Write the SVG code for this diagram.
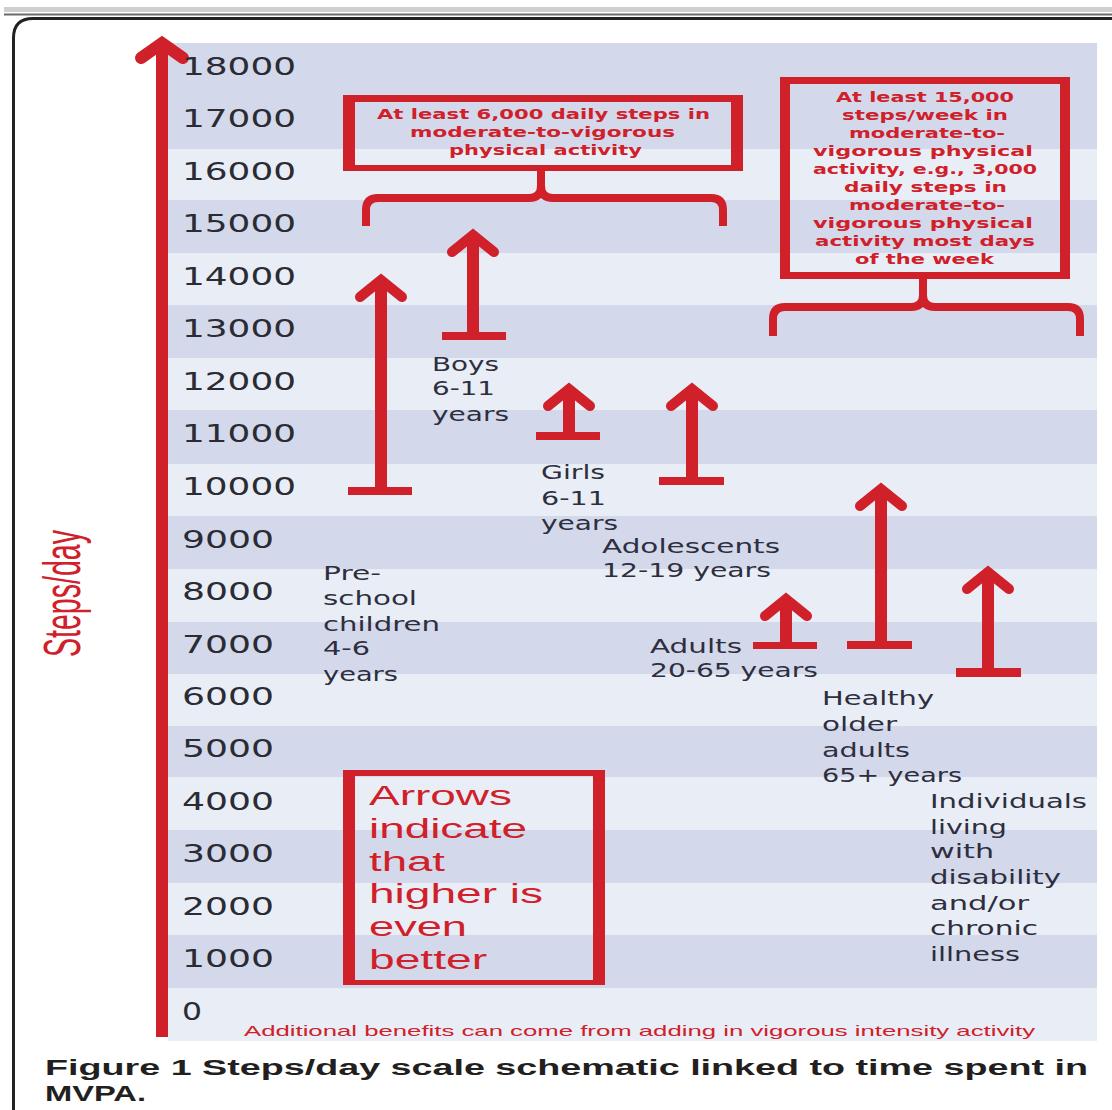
<svg xmlns="http://www.w3.org/2000/svg" width="1112" height="1110" viewBox="0 0 1112 1110">
<style>
.dark{fill:#d3d9ea}
.axl{font-family:"DejaVu Sans",sans-serif;font-size:25px;fill:#2b2b33}
.lbl{font-family:"DejaVu Sans",sans-serif;font-size:19px;fill:#2e2e3e}
.bx{font-family:"DejaVu Sans",sans-serif;font-weight:bold;fill:#d0202a}
.red{fill:#d0202a}
.rtx{font-family:"Liberation Sans",Arial,sans-serif;fill:#d0202a}
.brace{fill:none;stroke:#d0202a;stroke-width:8;stroke-linejoin:round}
.head{fill:none;stroke:#d0202a;stroke-width:10;stroke-linecap:round;stroke-linejoin:miter;stroke-miterlimit:10}
.cap{font-family:"Liberation Sans",Arial,sans-serif;font-weight:bold;font-size:22px;fill:#231f20}
</style>
<rect width="1112" height="1110" fill="#ffffff"/>
<g id="frame">
<rect x="4" y="7" width="1108" height="5" fill="#cfcfcf"/>
<line x1="4" y1="14.5" x2="1112" y2="14.5" stroke="#6a6a6a" stroke-width="2"/>
<path d="M13.5 1110 L13.5 38 Q13.5 18.5 33 18.5 L1112 18.5" fill="none" stroke="#222" stroke-width="3"/>
</g>
<g id="bands">
<rect x="168" y="43" width="929" height="998" fill="#e9eef6"/>
<rect class="dark" x="168" y="43" width="929" height="106"/>
<rect class="dark" x="168" y="200" width="929" height="53"/>
<rect class="dark" x="168" y="305" width="929" height="53"/>
<rect class="dark" x="168" y="410" width="929" height="54"/>
<rect class="dark" x="168" y="516" width="929" height="53"/>
<rect class="dark" x="168" y="622" width="929" height="52"/>
<rect class="dark" x="168" y="726" width="929" height="51"/>
<rect class="dark" x="168" y="830" width="929" height="53"/>
<rect class="dark" x="168" y="935" width="929" height="53"/>
</g>
<g id="axis">
<rect class="red" x="156" y="42" width="12" height="995"/>
<polyline class="head" style="stroke-width:12" points="141,58 162,43 183,58"/>
<text class="rtx" font-size="52" transform="translate(80,657) rotate(-90)" textLength="127" lengthAdjust="spacingAndGlyphs">Steps/day</text>
<g class="axl">
<text x="182" y="75" textLength="114" lengthAdjust="spacingAndGlyphs">18000</text>
<text x="182" y="127" textLength="114" lengthAdjust="spacingAndGlyphs">17000</text>
<text x="182" y="180" textLength="114" lengthAdjust="spacingAndGlyphs">16000</text>
<text x="182" y="232" textLength="114" lengthAdjust="spacingAndGlyphs">15000</text>
<text x="182" y="285" textLength="114" lengthAdjust="spacingAndGlyphs">14000</text>
<text x="182" y="337" textLength="114" lengthAdjust="spacingAndGlyphs">13000</text>
<text x="182" y="390" textLength="114" lengthAdjust="spacingAndGlyphs">12000</text>
<text x="182" y="442" textLength="114" lengthAdjust="spacingAndGlyphs">11000</text>
<text x="182" y="495" textLength="114" lengthAdjust="spacingAndGlyphs">10000</text>
<text x="182" y="548" textLength="92" lengthAdjust="spacingAndGlyphs">9000</text>
<text x="182" y="600" textLength="92" lengthAdjust="spacingAndGlyphs">8000</text>
<text x="182" y="653" textLength="92" lengthAdjust="spacingAndGlyphs">7000</text>
<text x="182" y="705" textLength="92" lengthAdjust="spacingAndGlyphs">6000</text>
<text x="182" y="757" textLength="92" lengthAdjust="spacingAndGlyphs">5000</text>
<text x="182" y="810" textLength="92" lengthAdjust="spacingAndGlyphs">4000</text>
<text x="182" y="862" textLength="92" lengthAdjust="spacingAndGlyphs">3000</text>
<text x="182" y="915" textLength="92" lengthAdjust="spacingAndGlyphs">2000</text>
<text x="182" y="967" textLength="92" lengthAdjust="spacingAndGlyphs">1000</text>
<text x="182" y="1020" textLength="20" lengthAdjust="spacingAndGlyphs">0</text>
</g>
</g>
<g id="connectors">
<path class="brace" d="M366 226 L366 210 Q366 198 378 198 L529 198 Q541 198 541 186 L541 168 M541 186 Q541 198 553 198 L711 198 Q723 198 723 210 L723 226"/>
<path class="brace" d="M773 336 L773 319 Q773 307 785 307 L911 307 Q923 307 923 295 L923 276 M923 295 Q923 307 935 307 L1068 307 Q1080 307 1080 319 L1080 336"/>
</g>
<g id="box-6000">
<path class="red" fill-rule="evenodd" d="M343 95 H743 V171 H343 Z M355 102 V165 H731 V102 Z"/>
<g class="bx" font-size="14.5">
<text x="377" y="119" textLength="333" lengthAdjust="spacingAndGlyphs">At least 6,000 daily steps in</text>
<text x="410" y="137" textLength="265" lengthAdjust="spacingAndGlyphs">moderate-to-vigorous</text>
<text x="449" y="155" textLength="193" lengthAdjust="spacingAndGlyphs">physical activity</text>
</g>
</g>
<g id="box-15000">
<path class="red" fill-rule="evenodd" d="M780 77 H1070 V279 H780 Z M790 84 V272 H1060 V84 Z"/>
<g class="bx" font-size="14.5">
<text x="836" y="101.5" textLength="178" lengthAdjust="spacingAndGlyphs">At least 15,000</text>
<text x="842" y="119.6" textLength="166" lengthAdjust="spacingAndGlyphs">steps/week in</text>
<text x="849" y="137.7" textLength="156" lengthAdjust="spacingAndGlyphs">moderate-to-</text>
<text x="813" y="155.8" textLength="220" lengthAdjust="spacingAndGlyphs">vigorous physical</text>
<text x="813" y="173.9" textLength="224" lengthAdjust="spacingAndGlyphs">activity, e.g., 3,000</text>
<text x="844" y="192" textLength="163" lengthAdjust="spacingAndGlyphs">daily steps in</text>
<text x="849" y="210.1" textLength="156" lengthAdjust="spacingAndGlyphs">moderate-to-</text>
<text x="813" y="228.2" textLength="220" lengthAdjust="spacingAndGlyphs">vigorous physical</text>
<text x="815" y="246.3" textLength="220" lengthAdjust="spacingAndGlyphs">activity most days</text>
<text x="855" y="264.4" textLength="139" lengthAdjust="spacingAndGlyphs">of the week</text>
</g>
</g>
<g id="arrow-preschool">
<rect class="red" x="375" y="282" width="12" height="206"/>
<rect class="red" x="348" y="487" width="64" height="8"/>
<polyline class="head" points="360,297 381,280 402,297"/>
<g class="lbl">
<text x="323" y="580" textLength="58" lengthAdjust="spacingAndGlyphs">Pre-</text>
<text x="323" y="605" textLength="94" lengthAdjust="spacingAndGlyphs">school</text>
<text x="323" y="631" textLength="117" lengthAdjust="spacingAndGlyphs">children</text>
<text x="323" y="655" textLength="47" lengthAdjust="spacingAndGlyphs">4-6</text>
<text x="323" y="681" textLength="75" lengthAdjust="spacingAndGlyphs">years</text>
</g>
</g>
<g id="arrow-boys">
<rect class="red" x="467" y="237" width="12" height="96"/>
<rect class="red" x="442" y="332" width="64" height="8"/>
<polyline class="head" points="452,252 473,235 494,252"/>
<g class="lbl">
<text x="432" y="371" textLength="67" lengthAdjust="spacingAndGlyphs">Boys</text>
<text x="432" y="395" textLength="63" lengthAdjust="spacingAndGlyphs">6-11</text>
<text x="432" y="421" textLength="77" lengthAdjust="spacingAndGlyphs">years</text>
</g>
</g>
<g id="arrow-girls">
<rect class="red" x="563" y="391" width="12" height="42"/>
<rect class="red" x="536" y="432" width="64" height="8"/>
<polyline class="head" points="548,406 569,389 590,406"/>
<g class="lbl">
<text x="541" y="479" textLength="64" lengthAdjust="spacingAndGlyphs">Girls</text>
<text x="541" y="505" textLength="65" lengthAdjust="spacingAndGlyphs">6-11</text>
<text x="541" y="530" textLength="77" lengthAdjust="spacingAndGlyphs">years</text>
</g>
</g>
<g id="arrow-adolescents">
<rect class="red" x="686" y="391" width="12" height="87"/>
<rect class="red" x="659" y="477" width="65" height="8"/>
<polyline class="head" points="671,406 692,389 713,406"/>
<g class="lbl">
<text x="602" y="553" textLength="178" lengthAdjust="spacingAndGlyphs">Adolescents</text>
<text x="602" y="577" textLength="169" lengthAdjust="spacingAndGlyphs">12-19 years</text>
</g>
</g>
<g id="arrow-adults">
<rect class="red" x="780" y="601" width="12" height="42"/>
<rect class="red" x="753" y="642" width="64" height="7"/>
<polyline class="head" points="765,616 786,599 807,616"/>
<g class="lbl">
<text x="650" y="653" textLength="92" lengthAdjust="spacingAndGlyphs">Adults</text>
<text x="650" y="677" textLength="168" lengthAdjust="spacingAndGlyphs">20-65 years</text>
</g>
</g>
<g id="arrow-older">
<rect class="red" x="875" y="491" width="12" height="151"/>
<rect class="red" x="847" y="641" width="65" height="8"/>
<polyline class="head" points="860,506 881,489 902,506"/>
<g class="lbl">
<text x="822" y="705" textLength="112" lengthAdjust="spacingAndGlyphs">Healthy</text>
<text x="822" y="731" textLength="75" lengthAdjust="spacingAndGlyphs">older</text>
<text x="822" y="757" textLength="88" lengthAdjust="spacingAndGlyphs">adults</text>
<text x="822" y="782" textLength="140" lengthAdjust="spacingAndGlyphs">65+ years</text>
</g>
</g>
<g id="arrow-disability">
<rect class="red" x="982" y="574" width="12" height="95"/>
<rect class="red" x="956" y="668" width="65" height="9"/>
<polyline class="head" points="967,589 988,572 1009,589"/>
<g class="lbl">
<text x="930" y="808" textLength="157" lengthAdjust="spacingAndGlyphs">Individuals</text>
<text x="930" y="834" textLength="77" lengthAdjust="spacingAndGlyphs">living</text>
<text x="930" y="858" textLength="64" lengthAdjust="spacingAndGlyphs">with</text>
<text x="930" y="884" textLength="131" lengthAdjust="spacingAndGlyphs">disability</text>
<text x="930" y="910" textLength="99" lengthAdjust="spacingAndGlyphs">and/or</text>
<text x="930" y="935" textLength="108" lengthAdjust="spacingAndGlyphs">chronic</text>
<text x="930" y="961" textLength="90" lengthAdjust="spacingAndGlyphs">illness</text>
</g>
</g>
<g id="legend-box">
<path class="red" fill-rule="evenodd" d="M343 770 H605 V985 H343 Z M355 776 V980 H593 V776 Z"/>
<g class="rtx" font-size="27">
<text x="369" y="805" textLength="143" lengthAdjust="spacingAndGlyphs">Arrows</text>
<text x="369" y="838" textLength="158" lengthAdjust="spacingAndGlyphs">indicate</text>
<text x="369" y="870.5" textLength="76" lengthAdjust="spacingAndGlyphs">that</text>
<text x="369" y="903" textLength="174" lengthAdjust="spacingAndGlyphs">higher is</text>
<text x="369" y="936" textLength="98" lengthAdjust="spacingAndGlyphs">even</text>
<text x="369" y="968.5" textLength="118" lengthAdjust="spacingAndGlyphs">better</text>
</g>
</g>
<g id="footnote">
<text class="rtx" font-size="15" x="244" y="1036" textLength="791" lengthAdjust="spacingAndGlyphs">Additional benefits can come from adding in vigorous intensity activity</text>
</g>
<g id="caption">
<text class="cap" x="45" y="1075" textLength="1043" lengthAdjust="spacingAndGlyphs">Figure 1 Steps/day scale schematic linked to time spent in</text>
<text class="cap" x="45" y="1101" textLength="101" lengthAdjust="spacingAndGlyphs">MVPA.</text>
</g>
</svg>
